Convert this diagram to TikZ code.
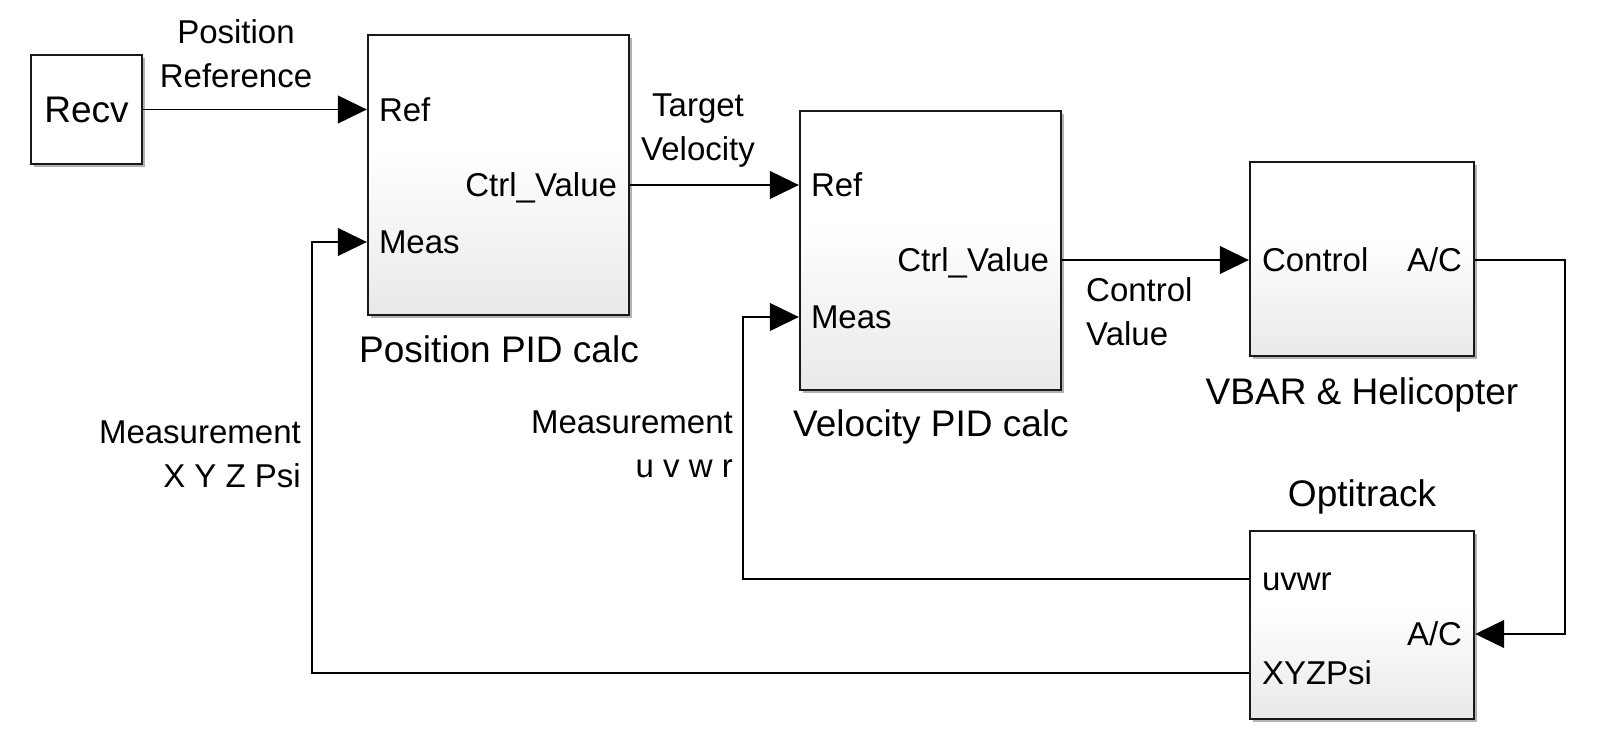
\documentclass[tikz,border=0pt]{standalone}
\usepackage{fontspec}
\setmainfont{Liberation Sans}
\usetikzlibrary{arrows.meta,shadows,calc,positioning}
\pgfdeclareverticalshading{blkshade}{100bp}{color(0bp)=(black!16); color(55bp)=(white); color(100bp)=(white)}
\tikzset{
  blk/.style={draw=black!90, line width=2.4pt, shading=blkshade, inner sep=0pt,
    drop shadow={shadow xshift=3pt, shadow yshift=-3pt, fill=black!30, opacity=1}},
  plainblk/.style={draw=black!90, line width=2.4pt, fill=white, inner sep=0pt,
    drop shadow={shadow xshift=3pt, shadow yshift=-3pt, fill=black!30, opacity=1}},
  sig/.style={line width=1.2pt, -{Triangle[length=29pt,width=28pt]}},
  port/.style={inner sep=0pt, font=\fontsize{33}{40}\selectfont, text height=23.6pt, text depth=0pt},
  lbl/.style={inner sep=0pt, font=\fontsize{33}{44}\selectfont},
  bname/.style={inner sep=0pt, font=\fontsize{37}{44}\selectfont, text height=26.5pt, text depth=0pt},
}
\begin{document}
\begin{tikzpicture}[x=1pt,y=-1pt]
\useasboundingbox (0,0) rectangle (1609,741);
% blocks
\node[plainblk, minimum width=111pt, minimum height=109pt, bname] (recv) at (86.5,109.5) {Recv};
\node[blk, minimum width=261pt, minimum height=280pt] (pos) at (498.5,175) {};
\node[blk, minimum width=261pt, minimum height=279pt] (vel) at (930.5,250.5) {};
\node[blk, minimum width=224pt, minimum height=194pt] (vbar) at (1362,259) {};
\node[blk, minimum width=224pt, minimum height=188pt] (opti) at (1362,625) {};
% ports
\coordinate (posRef) at (pos.west |- recv.east);
\coordinate (posMeas) at (pos.west |- 0,242);
\coordinate (posOut) at (pos.east |- 0,185);
\coordinate (velRef) at (vel.west |- posOut);
\coordinate (velMeas) at (vel.west |- 0,317);
\coordinate (velOut) at (vel.east |- 0,260);
\coordinate (vbIn) at (vbar.west |- velOut);
\coordinate (vbOut) at (vbar.east |- velOut);
\coordinate (opIn) at (opti.east |- 0,634);
\coordinate (opU) at (opti.west |- 0,579);
\coordinate (opX) at (opti.west |- 0,673);
% bends
\coordinate (bA) at (1565,260);
\coordinate (bB) at (1565,634);
\coordinate (bC) at (743,579);
\coordinate (bD) at (743,317);
\coordinate (bE) at (312,673);
\coordinate (bF) at (312,242);
% port labels
\node[port, anchor=west] at ($(posRef)+(12,0)$) {Ref};
\node[port, anchor=west] at ($(posMeas)+(12,0)$) {Meas};
\node[port, anchor=east] at ($(posOut)+(-13,0)$) {Ctrl\_Value};
\node[port, anchor=west] at ($(velRef)+(12,0)$) {Ref};
\node[port, anchor=west] at ($(velMeas)+(12,0)$) {Meas};
\node[port, anchor=east] at ($(velOut)+(-13,0)$) {Ctrl\_Value};
\node[port, anchor=west] at ($(vbIn)+(13,0)$) {Control};
\node[port, anchor=east] at ($(vbOut)+(-13,0)$) {A/C};
\node[port, anchor=west] at ($(opU)+(13,0)$) {uvwr};
\node[port, anchor=east] at ($(opIn)+(-13,0)$) {A/C};
\node[port, anchor=west] at ($(opX)+(13,0)$) {XYZPsi};
% block names
\node[bname] (posname) at (499,349) {Position PID calc};
\node[bname] (velname) at (931,423) {Velocity PID calc};
\node[bname] (vbname) at (1362,391) {VBAR \& Helicopter};
\node[bname] (opname) at (1362,493) {Optitrack};
% signal labels
\node[lbl, align=center] (l1) at (236,54) {Position\\Reference};
\node[lbl, align=center] (l2) at (698,131) {Target\\Velocity};
\node[lbl, align=left, anchor=west] (l3) at (1086,312) {Control\\Value};
\node[lbl, align=right, anchor=east] (l4) at (301,454) {Measurement\\X Y Z Psi};
\node[lbl, align=right, anchor=east] (l5) at (733,444) {Measurement\\u v w r};
% connectors
\draw[sig] (recv.east) -- (posRef);
\draw[sig] (posOut) -- (velRef);
\draw[sig] (velOut) -- (vbIn);
\draw[sig] (vbOut) -- (bA) -- (bB) -- (opIn);
\draw[sig] (opU) -- (bC) -- (bD) -- (velMeas);
\draw[sig] (opX) -- (bE) -- (bF) -- (posMeas);
\end{tikzpicture}
\end{document}
